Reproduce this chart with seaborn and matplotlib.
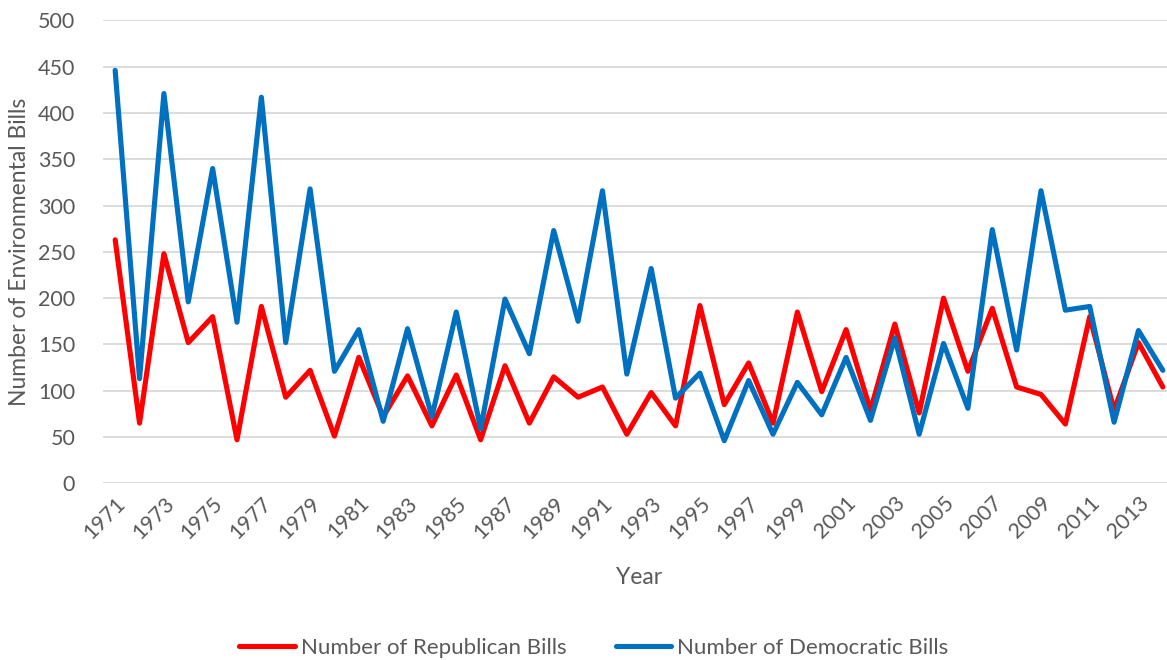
import matplotlib
matplotlib.use("Agg")
import matplotlib.pyplot as plt
import numpy as np
import pandas as pd
import seaborn as sns
from matplotlib.lines import Line2D

years = list(range(1971, 2015))
republican = [263, 65, 248, 152, 180, 47, 191, 93, 122, 51, 136,
              72, 116, 62, 117, 47, 127, 65, 115, 93, 104, 53, 98,
              62, 192, 85, 130, 65, 185, 99, 166, 79, 172, 76,
              200, 121, 189, 104, 96, 64, 180, 79, 152, 104]
democratic = [446, 113, 421, 196, 340, 174, 417, 152, 318, 121, 166,
              67, 167, 72, 185, 59, 199, 140, 273, 175, 316, 118, 232,
              92, 119, 46, 111, 53, 109, 74, 136, 68, 157, 53,
              151, 81, 274, 144, 316, 187, 191, 66, 165, 122]

df = pd.DataFrame({
    'Year': years * 2,
    'Bills': republican + democratic,
    'Series': ['Number of Republican Bills'] * len(years) + ['Number of Democratic Bills'] * len(years),
})

colors = {'Number of Republican Bills': '#FF0000', 'Number of Democratic Bills': '#0070C0'}
text_col = '#595959'

sns.set_style('white')
plt.rcParams['font.family'] = ['Lato', 'DejaVu Sans']

fig = plt.figure(figsize=(11.67, 6.6), dpi=100)
ax = fig.add_axes([103 / 1167, (660 - 483.3) / 660, (1175 - 103) / 1167, 462.9 / 660])

sns.lineplot(data=df, x='Year', y='Bills', hue='Series', palette=colors,
             linewidth=3.7, ax=ax, legend=False, zorder=3)

ax.set_xlim(1970.5, 2014.5)
ax.set_ylim(0, 500)
ax.set_yticks(range(0, 501, 50))
ax.yaxis.grid(True, color='#d9d9d9', linewidth=1.3, zorder=0)
ax.xaxis.grid(False)
for s in ax.spines.values():
    s.set_visible(False)

ax.set_xticks(years[::2])
ax.set_xticklabels([str(y) for y in years[::2]], rotation=45, ha='right',
                   rotation_mode='anchor', color=text_col, fontsize=15.5)
ax.tick_params(axis='y', labelsize=15.5, labelcolor=text_col, length=0, pad=20)
ax.tick_params(axis='x', length=0, pad=7)

ax.set_xlabel('Year', fontsize=16.5, color=text_col, labelpad=18)
ax.set_ylabel('Number of Environmental Bills', fontsize=16.5, color=text_col, labelpad=6)

handles = [Line2D([], [], color=c, linewidth=3.7) for c in colors.values()]
fig.legend(handles, list(colors.keys()), loc='center', bbox_to_anchor=(594 / 1167, 1 - 648 / 660),
           ncol=2, frameon=False, fontsize=16, labelcolor=text_col,
           handlelength=2.5, columnspacing=2.2, handletextpad=0.28)

fig.savefig('out.png', dpi=100)
